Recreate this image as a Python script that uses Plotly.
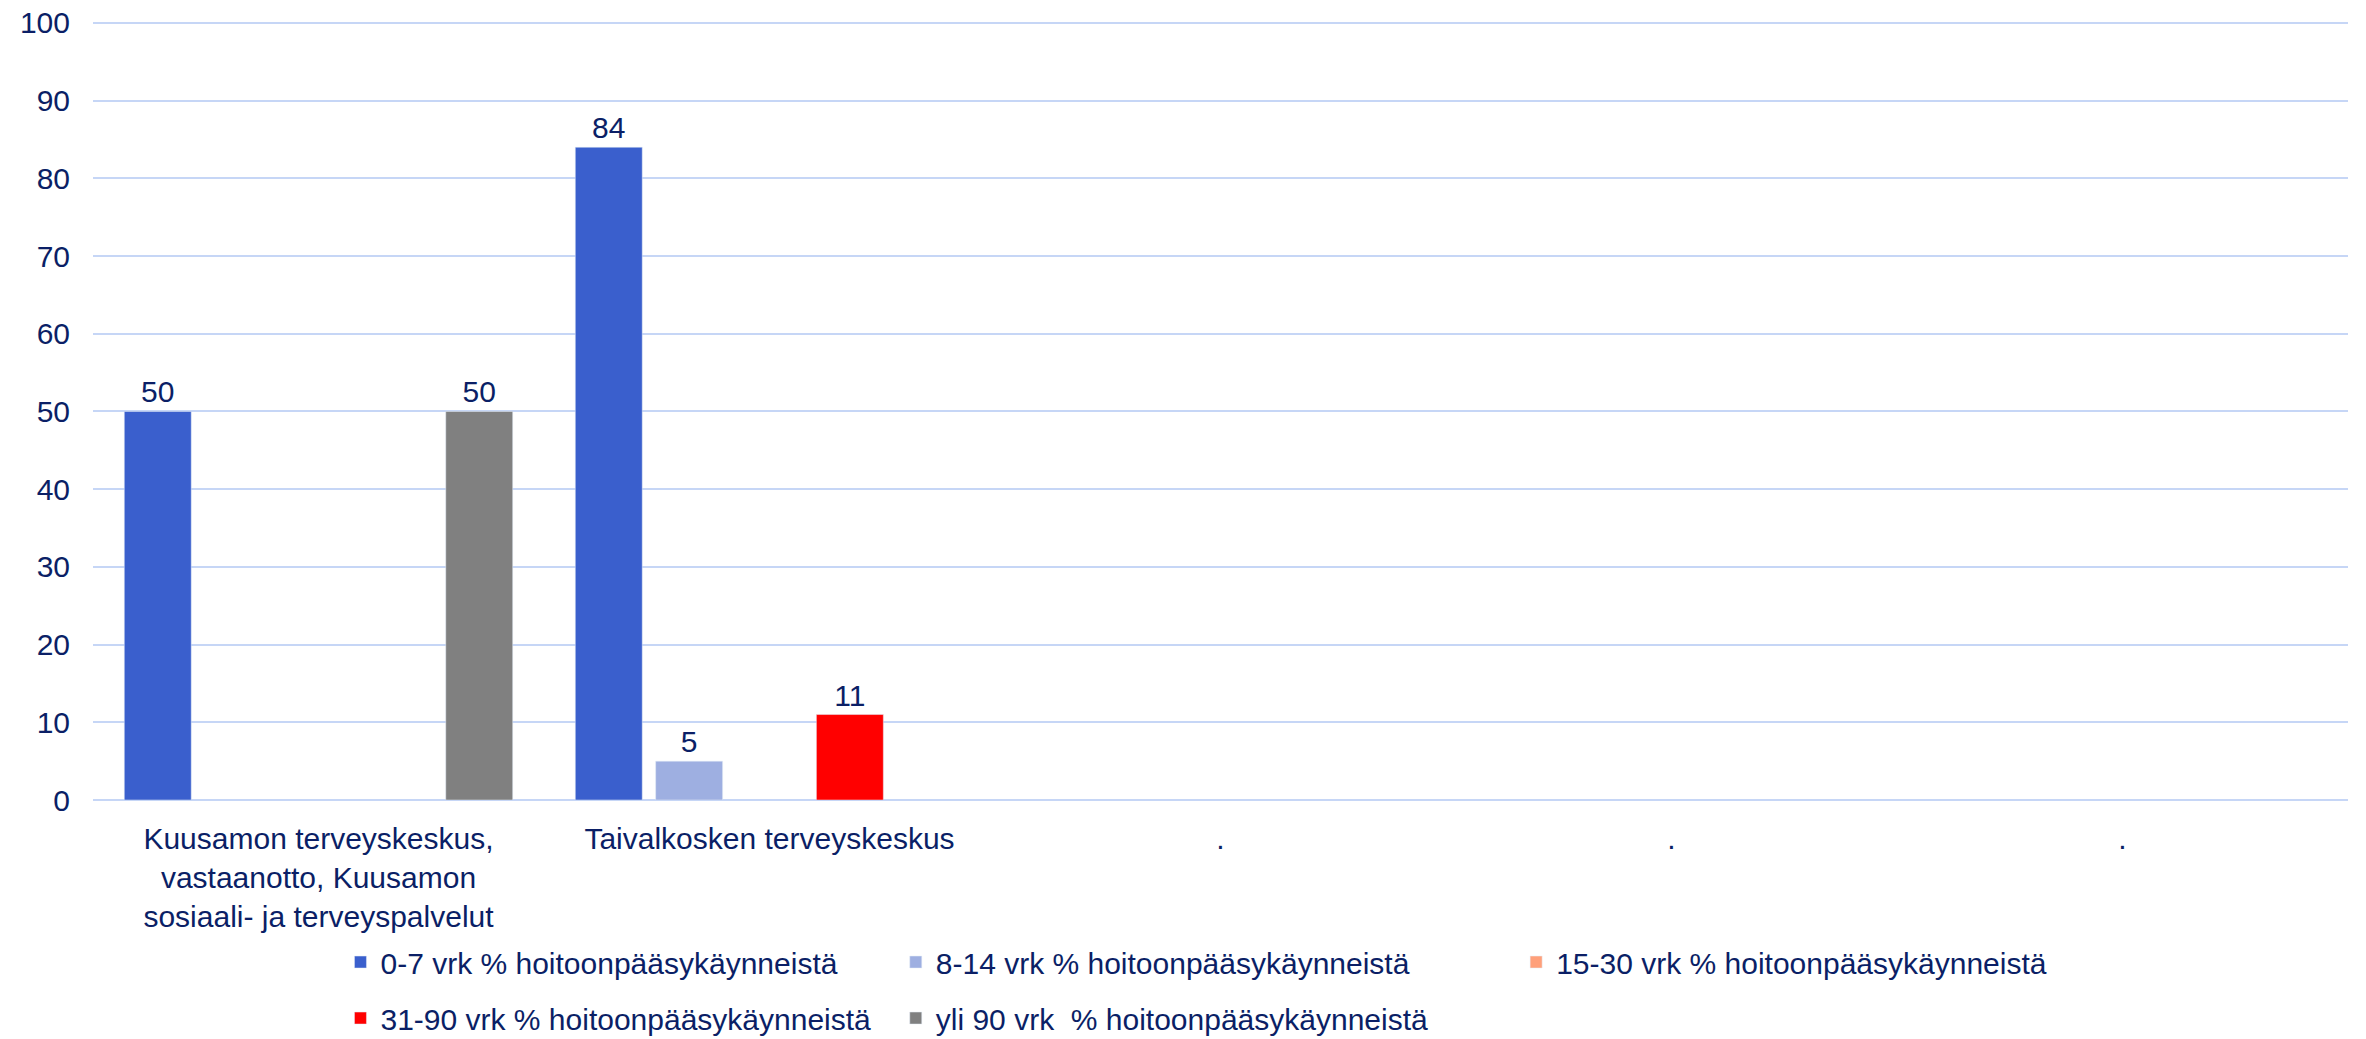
import plotly.graph_objects as go

NAVY = "#0B1F66"
GRID = "#C6D6F6"
FONT = "Liberation Sans, Arial, sans-serif"

categories = [
    "Kuusamon terveyskeskus,<br>vastaanotto, Kuusamon<br>sosiaali- ja terveyspalvelut",
    "Taivalkosken terveyskeskus",
    ".",
    ".",
    ".",
]

series_names = [
    "0-7 vrk % hoitoonpääsykäynneistä",
    "8-14 vrk % hoitoonpääsykäynneistä",
    "15-30 vrk % hoitoonpääsykäynneistä",
    "31-90 vrk % hoitoonpääsykäynneistä",
    "yli 90 vrk  % hoitoonpääsykäynneistä",
]
vrk_0_7 = [50, 84, None, None, None]
vrk_8_14 = [None, 5, None, None, None]
vrk_15_30 = [None, None, None, None, None]
vrk_31_90 = [None, 11, None, None, None]
vrk_yli_90 = [50, None, None, None, None]

series_values = [vrk_0_7, vrk_8_14, vrk_15_30, vrk_31_90, vrk_yli_90]
colors = ["#3A5FCD", "#9EAFE1", "#FFA07A", "#FF0000", "#808080"]
# legend columns: (0-7, 31-90), (8-14, yli 90), (15-30)
legend_of = ["legend", "legend2", "legend3", "legend", "legend2"]

x = list(range(len(categories)))

fig = go.Figure()
for i, (name, vals, col) in enumerate(zip(series_names, series_values, colors)):
    fig.add_trace(go.Bar(
        x=x, y=vals, name=name, marker_color=col,
        text=[("" if v is None else str(v)) for v in vals],
        textposition="outside", cliponaxis=False,
        textfont=dict(color=NAVY, size=30, family=FONT),
        legend=legend_of[i], legendgroup=name,
    ))

leg_common = dict(
    orientation="v", yref="container", xref="container",
    yanchor="top", y=0.0991, xanchor="left",
    font=dict(size=30, color=NAVY, family=FONT),
    bgcolor="rgba(0,0,0,0)", tracegroupgap=14, itemwidth=30,
)

fig.update_layout(
    width=2366, height=1039,
    paper_bgcolor="white", plot_bgcolor="white",
    font=dict(family=FONT, color=NAVY, size=30),
    margin=dict(l=93, r=18, t=19, b=239, autoexpand=False),
    barmode="group", bargap=0.109, bargroupgap=0.167,
    legend=dict(x=0.1439, **leg_common),
    legend2=dict(x=0.3786, **leg_common),
    legend3=dict(x=0.6408, **leg_common),
    showlegend=True,
)
fig.update_xaxes(
    tickmode="array", tickvals=x, ticktext=categories,
    range=[-0.5, len(categories) - 0.5], automargin=False,
    showgrid=False, showline=False, zeroline=False,
    tickfont=dict(size=30, color=NAVY, family=FONT), ticklabelstandoff=18,
)
fig.update_yaxes(
    range=[0, 100.5], tickvals=list(range(0, 101, 10)), automargin=False,
    ticklabeloverflow="allow",
    showgrid=True, gridcolor=GRID, gridwidth=2,
    zeroline=True, zerolinecolor=GRID, zerolinewidth=2, showline=False,
    tickfont=dict(size=30, color=NAVY, family=FONT), ticklabelstandoff=22,
)

# drop the default 8px body margin so the figure fills the window exactly
fig.write_html("out.html", config={"displayModeBar": False},
               post_script="document.body.style.margin='0';")
